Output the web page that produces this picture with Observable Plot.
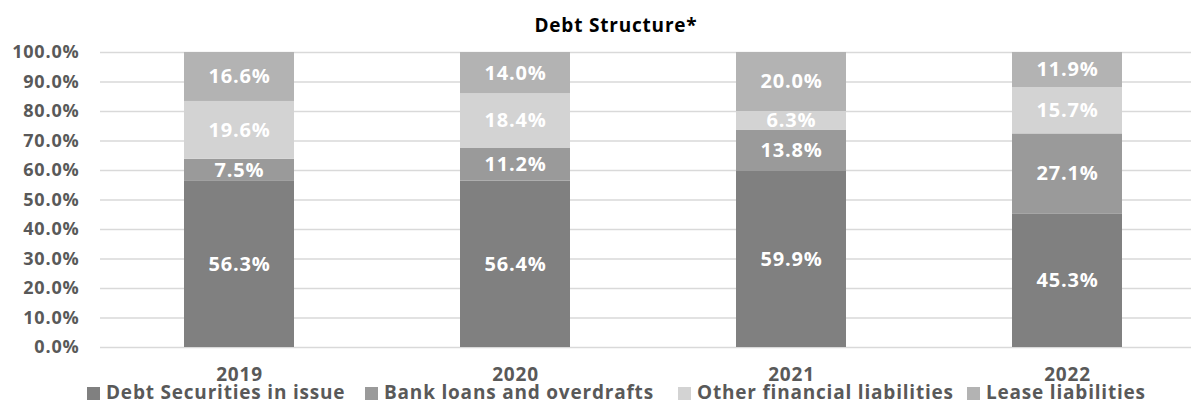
<!DOCTYPE html>
<html>
<head>
<meta charset="utf-8">
<script src="https://cdn.jsdelivr.net/npm/d3@7"></script>
<script src="https://cdn.jsdelivr.net/npm/@observablehq/plot@0.6"></script>
<style>
  html, body { margin: 0; padding: 0; background: #fff; }
  body { font-family: "Open Sans", Lato, sans-serif; font-weight: 700; }
  #wrap { position: relative; width: 1191px; height: 405px; overflow: hidden; }
  #title { position: absolute; left: 0; top: 0; width: 1191px; height: 40px; }
  #title span { position: absolute; left: 616px; top: 25px; transform: translate(-50%, -50%); font-size: 19px; letter-spacing: 0.8px; line-height: 24px; color: #000; white-space: nowrap; }
  #chart { position: absolute; left: 0; top: 40px; }
  #chart svg text { letter-spacing: 0.8px; }
  #legend { position: absolute; left: 0; top: 382px; width: 1191px; height: 20px; }
  .item { position: absolute; top: 0; height: 20px; line-height: 20px; display: flex; align-items: center; font-size: 19px; letter-spacing: 0.8px; color: #595959; white-space: nowrap; }
  .sw { width: 13px; height: 13px; margin-right: 6px; margin-top: 2px; }
</style>
</head>
<body>
<div id="wrap">
  <div id="title"><span>Debt Structure*</span></div>
  <div id="chart"></div>
  <div id="legend"></div>
</div>
<script>
const years = ["2019", "2020", "2021", "2022"];
const seriesNames = ["Debt Securities in issue", "Bank loans and overdrafts", "Other financial liabilities", "Lease liabilities"];
const debtSecurities = [56.3, 56.4, 59.9, 45.3];
const bankLoans = [7.5, 11.2, 13.8, 27.1];
const otherFinancial = [19.6, 18.4, 6.3, 15.7];
const leaseLiabilities = [16.6, 14.0, 20.0, 11.9];
const seriesColors = ["#808080", "#9a9a9a", "#d3d3d3", "#b3b3b3"];
const yTicks = [0, 10, 20, 30, 40, 50, 60, 70, 80, 90, 100];

const seriesValues = [debtSecurities, bankLoans, otherFinancial, leaseLiabilities];
const data = [];
years.forEach((year, i) => {
  seriesNames.forEach((s, j) => {
    data.push({ year, series: s, value: seriesValues[j][i] });
  });
});

const chart = Plot.plot({
  width: 1191,
  height: 365,
  marginLeft: 100,
  marginRight: 0,
  marginTop: 12,
  marginBottom: 58,
  style: { fontFamily: "'Open Sans', Lato, sans-serif", fontWeight: 700, background: "transparent" },
  x: { domain: years, range: [101, 1205], paddingInner: 0.6, paddingOuter: 0.3, label: null },
  y: { domain: [0, 100], label: null },
  color: { domain: seriesNames, range: seriesColors },
  marks: [
    Plot.ruleY(yTicks, { stroke: "#d9d9d9", strokeWidth: 1.5 }),
    Plot.barY(data, { x: "year", y: "value", fill: "series", order: seriesNames }),
    Plot.text(data, Plot.stackY({
      x: "year", y: "value", z: "series", order: seriesNames,
      text: d => d.value.toFixed(1) + "%",
      fill: "#fff", fontSize: 20, fontWeight: 700
    })),
    Plot.axisY({ ticks: yTicks, tickSize: 0, tickPadding: 21, tickFormat: d => d.toFixed(1) + "%", fontSize: 18, fontWeight: 700, fill: "#595959", label: null }),
    Plot.axisX({ tickSize: 0, tickPadding: 20, fontSize: 19, fontWeight: 700, fill: "#595959", label: null })
  ]
});
document.getElementById("chart").appendChild(chart);

const legendX = [87, 365, 678, 967];
const legend = document.getElementById("legend");
seriesNames.forEach((s, i) => {
  const item = document.createElement("div");
  item.className = "item";
  item.style.left = legendX[i] + "px";
  const sw = document.createElement("div");
  sw.className = "sw";
  sw.style.background = seriesColors[i];
  const t = document.createElement("span");
  t.textContent = s;
  item.appendChild(sw);
  item.appendChild(t);
  legend.appendChild(item);
});
</script>
</body>
</html>
